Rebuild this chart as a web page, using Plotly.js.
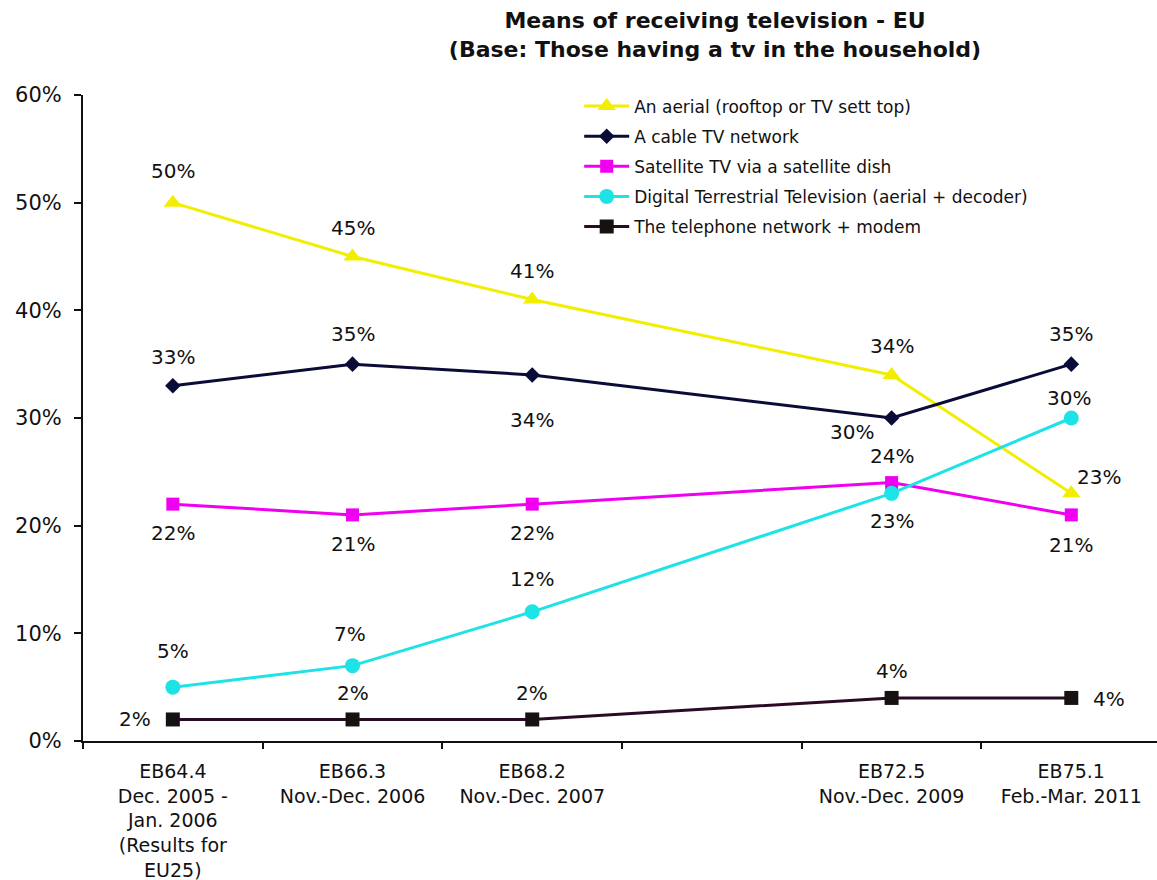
<!DOCTYPE html>
<html>
<head>
<meta charset="utf-8">
<script src="https://cdn.plot.ly/plotly-3.0.1.min.js"></script>
<style>html,body{margin:0;padding:0;background:#fff;}#chart{width:1157px;height:880px;}</style>
</head>
<body>
<div id="chart"></div>
<script>
// ---- data ----
const xPos = [0, 1, 2, 4, 5];
const tickLabels = [
  "EB64.4<br>Dec. 2005 -<br>Jan. 2006<br>(Results for<br>EU25)",
  "EB66.3<br>Nov.-Dec. 2006",
  "EB68.2<br>Nov.-Dec. 2007",
  "EB72.5<br>Nov.-Dec. 2009",
  "EB75.1<br>Feb.-Mar. 2011"
];
const yTickVals = [0, 10, 20, 30, 40, 50, 60];
const yTickText = ["0%", "10%", "20%", "30%", "40%", "50%", "60%"];
const seriesNames = [
  "An aerial (rooftop or TV sett top)",
  "A cable TV network",
  "Satellite TV via a satellite dish",
  "Digital Terrestrial Television (aerial + decoder)",
  "The telephone network + modem"
];
const aerial    = [50, 45, 41, 34, 23];
const cable     = [33, 35, 34, 30, 35];
const satellite = [22, 21, 22, 24, 21];
const dtt       = [5, 7, 12, 23, 30];
const telephone = [2, 2, 2, 4, 4];

// ---- styles ----
const series = [aerial, cable, satellite, dtt, telephone];
const lineColors = ["#F2EE00", "#0B0B38", "#F000F0", "#1DE3E6", "#2A0A24"];
const markerColors = ["#F2EE00", "#0B0B38", "#F000F0", "#1DE3E6", "#161212"];
const symbols = ["triangle-up", "diamond", "square", "circle", "square"];
const sizes = [16, 12, 13, 15, 14];
// label offsets [dx, dy] in px (dy positive = down)
const offsets = [
  [[0,-32],[0,-29],[0,-29],[0,-29],[28,-16]],
  [[0,-29],[0,-30],[0,45],[-40,14],[0,-30]],
  [[0,29],[0,29],[0,29],[0,-27],[0,30]],
  [[0,-36],[-3,-32],[0,-33],[0,28],[-2,-20]],
  [[-38,0],[0,-26],[0,-26],[0,-27],[38,1]]
];

const traces = series.map((vals, i) => ({
  type: "scatter",
  mode: "lines+markers",
  name: seriesNames[i],
  legendgroup: "g" + i,
  x: xPos,
  y: vals,
  line: {color: lineColors[i], width: 3},
  marker: {color: markerColors[i], symbol: symbols[i], size: sizes[i]},
  hoverinfo: "skip"
}));

const annotations = [];
series.forEach((vals, i) => {
  vals.forEach((v, j) => {
    annotations.push({
      x: xPos[j], y: v, xref: "x", yref: "y",
      text: v + "%", showarrow: false,
      xshift: offsets[i][j][0], yshift: -offsets[i][j][1],
      font: {family: "DejaVu Sans", size: 20, color: "#111"}
    });
  });
});

const layout = {
  width: 1157, height: 880,
  margin: {l: 83, r: 0, t: 95, b: 139},
  paper_bgcolor: "#fff", plot_bgcolor: "#fff",
  font: {family: "DejaVu Sans", color: "#111"},
  title: {
    text: "<b>Means of receiving television - EU<br>(Base: Those having a tv in the household)</b>",
    font: {family: "DejaVu Sans", size: 22, color: "#111"},
    x: 715 / 1157, xanchor: "center", xref: "container",
    y: 0.968, yanchor: "top", yref: "container"
  },
  showlegend: true,
  legend: {
    x: 0.462, y: 1.01, xanchor: "left", yanchor: "top",
    font: {family: "DejaVu Sans", size: 17, color: "#111"},
    bgcolor: "rgba(0,0,0,0)", tracegroupgap: 5, traceorder: "grouped",
    itemwidth: 45
  },
  xaxis: {
    range: [-0.5, 5.477], showgrid: false, zeroline: false,
    showline: true, linecolor: "#111", linewidth: 2,
    tickmode: "array", tickvals: xPos, ticktext: tickLabels, ticks: "",
    ticklabelstandoff: 12,
    tickfont: {family: "DejaVu Sans", size: 19, color: "#111"},
    minor: {tickmode: "array", tickvals: [-0.5, 0.5, 1.5, 2.5, 3.5, 4.5], ticks: "outside", ticklen: 6, tickcolor: "#111", tickwidth: 2, showgrid: false},
    fixedrange: true
  },
  yaxis: {
    range: [0, 60], showgrid: false, zeroline: false,
    showline: true, linecolor: "#111", linewidth: 2,
    tickmode: "array", tickvals: yTickVals, ticktext: yTickText,
    ticks: "outside", ticklen: 7, tickcolor: "#111", tickwidth: 2,
    ticklabelstandoff: 8,
    tickfont: {family: "DejaVu Sans", size: 21, color: "#111"},
    fixedrange: true
  },
  annotations: annotations
};

Plotly.newPlot("chart", traces, layout, {displayModeBar: false, staticPlot: true});
</script>
</body>
</html>
